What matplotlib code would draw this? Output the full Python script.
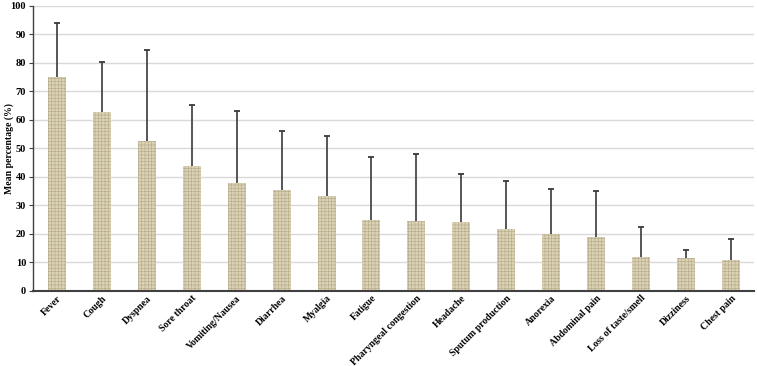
import matplotlib.pyplot as plt
import numpy as np

# symptom data (mean percentage and upper end of error bar)
symptoms = ['Fever', 'Cough', 'Dyspnea', 'Sore throat', 'Vomiting/Nausea', 'Diarrhea',
            'Myalgia', 'Fatigue', 'Pharyngeal congestion', 'Headache', 'Sputum production',
            'Anorexia', 'Abdominal pain', 'Loss of taste/smell', 'Dizziness', 'Chest pain']
means = [75.2, 62.7, 52.6, 43.9, 38.0, 35.3, 33.2, 24.8, 24.5, 24.2, 21.7, 20.1, 18.9, 12.0, 11.4, 10.9]
upper = [94.1, 80.3, 84.5, 65.4, 63.0, 56.1, 54.3, 46.9, 47.9, 41.0, 38.7, 35.6, 35.0, 22.4, 14.3, 18.2]

x = np.arange(len(symptoms))

plt.rcParams['font.family'] = ['Liberation Serif', 'DejaVu Serif']
plt.rcParams['hatch.linewidth'] = 0.5

fig = plt.figure(figsize=(7.57, 3.66), dpi=100)
ax = fig.add_axes([0.0436, 0.205, 0.953, 0.779])

ax.yaxis.grid(True, color='#d9d9d9', linewidth=1.0)
ax.set_axisbelow(True)

ax.bar(x, means, width=0.4, color='#dcd3b7', edgecolor='#b9ae8f', hatch='+++++',
       linewidth=0, zorder=2)
# one-sided (upper) error bars
ax.vlines(x, means, upper, color='#3a3a3a', linewidth=1.2, zorder=3)
ax.plot(x, upper, linestyle='none', marker='_', markersize=4, markeredgewidth=1.3,
        color='#3a3a3a', zorder=3)

ax.set_xlim(-0.53, 15.52)
ax.set_ylim(0, 100)
ax.set_yticks(np.arange(0, 101, 10))
ax.set_xticks(x)
ax.set_xticklabels(symptoms, rotation=45, ha='right', rotation_mode='anchor',
                   fontsize=7, fontweight='bold')
for lab in ax.get_yticklabels():
    lab.set_fontweight('bold')
ax.tick_params(axis='y', labelsize=7.5, length=3, color='#404040', pad=2)
ax.tick_params(axis='x', length=0, pad=2)
ax.set_ylabel('Mean percentage (%)', fontsize=7, fontweight='bold')
ax.yaxis.set_label_coords(-0.026, 0.5)

for s in ['top', 'right']:
    ax.spines[s].set_visible(False)
ax.spines['left'].set_color('#404040')
ax.spines['left'].set_linewidth(1.0)
ax.spines['bottom'].set_color('#404040')
ax.spines['bottom'].set_linewidth(1.5)

fig.savefig('out.png', dpi=100)
